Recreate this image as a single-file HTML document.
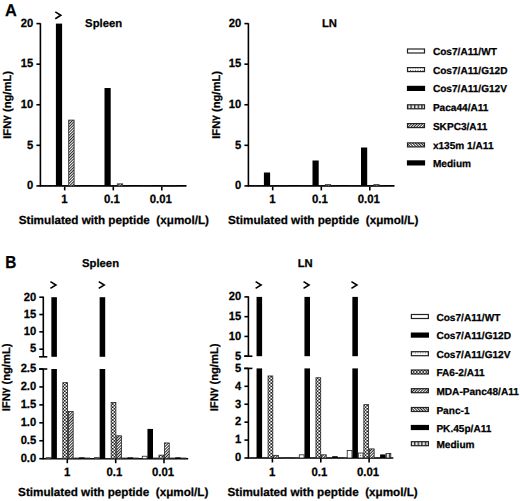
<!DOCTYPE html>
<html><head><meta charset="utf-8"><style>
html,body{margin:0;padding:0;background:#fff;width:520px;height:501px;overflow:hidden}
svg{display:block}
text{stroke:#000;stroke-width:0.25px;text-rendering:geometricPrecision}
</style></head><body>
<svg width="520" height="501" viewBox="0 0 520 501">
<defs>
<pattern id="pFwd" patternUnits="userSpaceOnUse" width="2.0" height="4" patternTransform="rotate(45)"><rect width="2.0" height="4" fill="#fff"/><rect width="1.0" height="4" fill="#222"/></pattern>
<pattern id="pBwd" patternUnits="userSpaceOnUse" width="2.0" height="4" patternTransform="rotate(-45)"><rect width="2.0" height="4" fill="#fff"/><rect width="1.0" height="4" fill="#222"/></pattern>
<pattern id="pVert" patternUnits="userSpaceOnUse" width="3.6" height="3"><rect width="3.6" height="3" fill="#e8e8e8"/><rect width="1.4" height="3" fill="#333"/></pattern>
<pattern id="pDots" patternUnits="userSpaceOnUse" width="2.5" height="2.5"><rect width="2.5" height="2.5" fill="#fff"/><rect width="0.9" height="0.9" fill="#555"/></pattern>
<pattern id="pCross" patternUnits="userSpaceOnUse" width="3.2" height="3.2"><rect width="3.2" height="3.2" fill="#fff"/><rect width="1.6" height="1.6" fill="#222"/><rect x="1.6" y="1.6" width="1.6" height="1.6" fill="#222"/></pattern>
</defs>
<rect width="520" height="501" fill="#fff"/>
<g font-family='"Liberation Sans", sans-serif' font-weight="bold" fill="#000">
<text x="0" y="0" font-size="17.0" transform="translate(5.0,15.7) scale(0.96,1)">A</text>
<text x="0" y="0" font-size="17.4" transform="translate(5.3,267.5) scale(0.885,1)">B</text>
<line x1="40.40" y1="23.20" x2="40.40" y2="186.50" stroke="#000" stroke-width="1.6"/>
<line x1="36.40" y1="185.90" x2="40.40" y2="185.90" stroke="#000" stroke-width="1.6"/>
<text transform="translate(33.30,189.20) scale(1,1.06)" font-size="11.2" text-anchor="end" >0</text>
<line x1="36.40" y1="145.32" x2="40.40" y2="145.32" stroke="#000" stroke-width="1.6"/>
<text transform="translate(33.30,148.62) scale(1,1.06)" font-size="11.2" text-anchor="end" >5</text>
<line x1="36.40" y1="104.75" x2="40.40" y2="104.75" stroke="#000" stroke-width="1.6"/>
<text transform="translate(33.30,108.05) scale(1,1.06)" font-size="11.2" text-anchor="end" >10</text>
<line x1="36.40" y1="64.17" x2="40.40" y2="64.17" stroke="#000" stroke-width="1.6"/>
<text transform="translate(33.30,67.47) scale(1,1.06)" font-size="11.2" text-anchor="end" >15</text>
<line x1="36.40" y1="23.60" x2="40.40" y2="23.60" stroke="#000" stroke-width="1.6"/>
<text transform="translate(33.30,26.90) scale(1,1.06)" font-size="11.2" text-anchor="end" >20</text>
<line x1="39.80" y1="185.90" x2="186.50" y2="185.90" stroke="#000" stroke-width="1.6"/>
<line x1="64.70" y1="185.90" x2="64.70" y2="190.40" stroke="#000" stroke-width="1.6"/>
<text transform="translate(64.50,203.30) scale(1,1.06)" font-size="11.4" text-anchor="middle" >1</text>
<line x1="113.30" y1="185.90" x2="113.30" y2="190.40" stroke="#000" stroke-width="1.6"/>
<text transform="translate(111.90,203.30) scale(1,1.06)" font-size="11.4" text-anchor="middle" >0.1</text>
<line x1="161.80" y1="185.90" x2="161.80" y2="190.40" stroke="#000" stroke-width="1.6"/>
<text transform="translate(160.80,203.30) scale(1,1.06)" font-size="11.4" text-anchor="middle" >0.01</text>
<rect x="43.90" y="186.00" width="5.40" height="0.20" fill="#fff" stroke="#222" stroke-width="0.8"/>
<rect x="50.10" y="186.00" width="5.40" height="0.20" fill="url(#pDots)" stroke="#222" stroke-width="0.8"/>
<rect x="55.90" y="23.60" width="6.20" height="162.30" fill="#000"/>
<polyline points="55.30,11.90 60.80,15.30 55.30,18.70" fill="none" stroke="#000" stroke-width="1.6" stroke-linejoin="miter"/>
<rect x="62.50" y="186.00" width="5.40" height="0.20" fill="url(#pVert)" stroke="#222" stroke-width="0.8"/>
<rect x="68.70" y="120.08" width="5.40" height="65.82" fill="url(#pFwd)" stroke="#222" stroke-width="0.8"/>
<rect x="74.90" y="186.00" width="5.40" height="0.20" fill="url(#pBwd)" stroke="#222" stroke-width="0.8"/>
<rect x="80.70" y="185.60" width="6.20" height="0.30" fill="#000"/>
<rect x="92.50" y="186.00" width="5.40" height="0.20" fill="#fff" stroke="#222" stroke-width="0.8"/>
<rect x="98.70" y="186.00" width="5.40" height="0.20" fill="url(#pDots)" stroke="#222" stroke-width="0.8"/>
<rect x="104.50" y="88.03" width="6.20" height="97.87" fill="#000"/>
<rect x="111.10" y="186.00" width="5.40" height="0.20" fill="url(#pVert)" stroke="#222" stroke-width="0.8"/>
<rect x="117.30" y="183.87" width="5.40" height="2.03" fill="url(#pFwd)" stroke="#222" stroke-width="0.8"/>
<rect x="123.50" y="186.00" width="5.40" height="0.20" fill="url(#pBwd)" stroke="#222" stroke-width="0.8"/>
<rect x="129.30" y="185.60" width="6.20" height="0.30" fill="#000"/>
<rect x="141.00" y="186.00" width="5.40" height="0.20" fill="#fff" stroke="#222" stroke-width="0.8"/>
<rect x="147.20" y="186.00" width="5.40" height="0.20" fill="url(#pDots)" stroke="#222" stroke-width="0.8"/>
<rect x="153.00" y="185.60" width="6.20" height="0.30" fill="#000"/>
<rect x="159.60" y="186.00" width="5.40" height="0.20" fill="url(#pVert)" stroke="#222" stroke-width="0.8"/>
<rect x="165.80" y="186.00" width="5.40" height="0.20" fill="url(#pFwd)" stroke="#222" stroke-width="0.8"/>
<rect x="172.00" y="186.00" width="5.40" height="0.20" fill="url(#pBwd)" stroke="#222" stroke-width="0.8"/>
<rect x="177.80" y="185.60" width="6.20" height="0.30" fill="#000"/>
<text x="85.10" y="26.80" font-size="11.3" text-anchor="start" >Spleen</text>
<text x="18.70" y="224.2" font-size="11.7" xml:space="preserve">Stimulated with peptide  (xμmol/L)</text>
<text x="0" y="0" font-size="11.2" text-anchor="middle" transform="translate(10.70,104.90) rotate(-90)">IFN<tspan dy="-2.0" font-size="10">γ</tspan><tspan dy="2.0"> (ng/mL)</tspan></text>
<line x1="248.40" y1="23.20" x2="248.40" y2="186.50" stroke="#000" stroke-width="1.6"/>
<line x1="244.40" y1="185.90" x2="248.40" y2="185.90" stroke="#000" stroke-width="1.6"/>
<text transform="translate(241.30,189.20) scale(1,1.06)" font-size="11.2" text-anchor="end" >0</text>
<line x1="244.40" y1="145.32" x2="248.40" y2="145.32" stroke="#000" stroke-width="1.6"/>
<text transform="translate(241.30,148.62) scale(1,1.06)" font-size="11.2" text-anchor="end" >5</text>
<line x1="244.40" y1="104.75" x2="248.40" y2="104.75" stroke="#000" stroke-width="1.6"/>
<text transform="translate(241.30,108.05) scale(1,1.06)" font-size="11.2" text-anchor="end" >10</text>
<line x1="244.40" y1="64.17" x2="248.40" y2="64.17" stroke="#000" stroke-width="1.6"/>
<text transform="translate(241.30,67.47) scale(1,1.06)" font-size="11.2" text-anchor="end" >15</text>
<line x1="244.40" y1="23.60" x2="248.40" y2="23.60" stroke="#000" stroke-width="1.6"/>
<text transform="translate(241.30,26.90) scale(1,1.06)" font-size="11.2" text-anchor="end" >20</text>
<line x1="247.80" y1="185.90" x2="394.50" y2="185.90" stroke="#000" stroke-width="1.6"/>
<line x1="272.70" y1="185.90" x2="272.70" y2="190.40" stroke="#000" stroke-width="1.6"/>
<text transform="translate(272.50,203.30) scale(1,1.06)" font-size="11.4" text-anchor="middle" >1</text>
<line x1="321.30" y1="185.90" x2="321.30" y2="190.40" stroke="#000" stroke-width="1.6"/>
<text transform="translate(319.90,203.30) scale(1,1.06)" font-size="11.4" text-anchor="middle" >0.1</text>
<line x1="369.80" y1="185.90" x2="369.80" y2="190.40" stroke="#000" stroke-width="1.6"/>
<text transform="translate(368.80,203.30) scale(1,1.06)" font-size="11.4" text-anchor="middle" >0.01</text>
<rect x="251.90" y="186.00" width="5.40" height="0.20" fill="#fff" stroke="#222" stroke-width="0.8"/>
<rect x="258.10" y="186.00" width="5.40" height="0.20" fill="url(#pDots)" stroke="#222" stroke-width="0.8"/>
<rect x="263.90" y="172.51" width="6.20" height="13.39" fill="#000"/>
<rect x="270.50" y="186.00" width="5.40" height="0.20" fill="url(#pVert)" stroke="#222" stroke-width="0.8"/>
<rect x="276.70" y="186.00" width="5.40" height="0.20" fill="url(#pFwd)" stroke="#222" stroke-width="0.8"/>
<rect x="282.90" y="186.00" width="5.40" height="0.20" fill="url(#pBwd)" stroke="#222" stroke-width="0.8"/>
<rect x="288.70" y="185.60" width="6.20" height="0.30" fill="#000"/>
<rect x="300.50" y="186.00" width="5.40" height="0.20" fill="#fff" stroke="#222" stroke-width="0.8"/>
<rect x="306.70" y="186.00" width="5.40" height="0.20" fill="url(#pDots)" stroke="#222" stroke-width="0.8"/>
<rect x="312.50" y="160.50" width="6.20" height="25.40" fill="#000"/>
<rect x="319.10" y="186.00" width="5.40" height="0.20" fill="url(#pVert)" stroke="#222" stroke-width="0.8"/>
<rect x="325.30" y="184.68" width="5.40" height="1.22" fill="url(#pFwd)" stroke="#222" stroke-width="0.8"/>
<rect x="331.50" y="186.00" width="5.40" height="0.20" fill="url(#pBwd)" stroke="#222" stroke-width="0.8"/>
<rect x="337.30" y="185.60" width="6.20" height="0.30" fill="#000"/>
<rect x="349.00" y="186.00" width="5.40" height="0.20" fill="#fff" stroke="#222" stroke-width="0.8"/>
<rect x="355.20" y="186.00" width="5.40" height="0.20" fill="url(#pDots)" stroke="#222" stroke-width="0.8"/>
<rect x="361.00" y="147.52" width="6.20" height="38.38" fill="#000"/>
<rect x="367.60" y="186.00" width="5.40" height="0.20" fill="url(#pVert)" stroke="#222" stroke-width="0.8"/>
<rect x="373.80" y="184.68" width="5.40" height="1.22" fill="url(#pFwd)" stroke="#222" stroke-width="0.8"/>
<rect x="380.00" y="186.00" width="5.40" height="0.20" fill="url(#pBwd)" stroke="#222" stroke-width="0.8"/>
<rect x="385.80" y="185.60" width="6.20" height="0.30" fill="#000"/>
<text x="321.90" y="26.80" font-size="11.3" text-anchor="start" >LN</text>
<text x="228.09" y="224.2" font-size="11.7" xml:space="preserve">Stimulated with peptide  (xμmol/L)</text>
<text x="0" y="0" font-size="11.2" text-anchor="middle" transform="translate(219.50,104.90) rotate(-90)">IFN<tspan dy="-2.0" font-size="10">γ</tspan><tspan dy="2.0"> (ng/mL)</tspan></text>
<rect x="407.50" y="49.00" width="17.00" height="4.00" fill="#fff" stroke="#222" stroke-width="1.2"/>
<text x="432.90" y="55.00" font-size="10.1" text-anchor="start" >Cos7/A11/WT</text>
<rect x="407.50" y="67.60" width="17.00" height="4.00" fill="url(#pDots)" stroke="#222" stroke-width="1.2"/>
<text x="432.90" y="73.60" font-size="10.1" text-anchor="start" >Cos7/A11/G12D</text>
<rect x="406.90" y="85.80" width="18.20" height="5.20" fill="#000"/>
<text x="432.90" y="92.40" font-size="10.1" text-anchor="start" >Cos7/A11/G12V</text>
<rect x="407.50" y="104.80" width="17.00" height="4.00" fill="url(#pVert)" stroke="#222" stroke-width="1.2"/>
<text x="432.90" y="110.80" font-size="10.1" text-anchor="start" >Paca44/A11</text>
<rect x="407.50" y="123.60" width="17.00" height="4.00" fill="url(#pFwd)" stroke="#222" stroke-width="1.2"/>
<text x="432.90" y="129.60" font-size="10.1" text-anchor="start" >SKPC3/A11</text>
<rect x="407.50" y="142.90" width="17.00" height="4.00" fill="url(#pBwd)" stroke="#222" stroke-width="1.2"/>
<text x="432.90" y="148.90" font-size="10.1" text-anchor="start" >x135m 1/A11</text>
<rect x="406.90" y="160.30" width="18.20" height="5.20" fill="#000"/>
<text x="432.90" y="166.90" font-size="10.1" text-anchor="start" >Medium</text>
<line x1="43.30" y1="296.60" x2="43.30" y2="356.80" stroke="#000" stroke-width="1.6"/>
<line x1="39.10" y1="356.80" x2="47.30" y2="356.80" stroke="#000" stroke-width="1.6"/>
<line x1="39.30" y1="349.18" x2="43.30" y2="349.18" stroke="#000" stroke-width="1.6"/>
<text transform="translate(36.20,352.48) scale(1,1.06)" font-size="11.2" text-anchor="end" >5</text>
<line x1="39.30" y1="331.85" x2="43.30" y2="331.85" stroke="#000" stroke-width="1.6"/>
<text transform="translate(36.20,335.15) scale(1,1.06)" font-size="11.2" text-anchor="end" >10</text>
<line x1="39.30" y1="314.53" x2="43.30" y2="314.53" stroke="#000" stroke-width="1.6"/>
<text transform="translate(36.20,317.83) scale(1,1.06)" font-size="11.2" text-anchor="end" >15</text>
<line x1="39.30" y1="297.20" x2="43.30" y2="297.20" stroke="#000" stroke-width="1.6"/>
<text transform="translate(36.20,300.50) scale(1,1.06)" font-size="11.2" text-anchor="end" >20</text>
<line x1="43.30" y1="369.00" x2="43.30" y2="459.30" stroke="#000" stroke-width="1.6"/>
<line x1="39.10" y1="369.00" x2="47.30" y2="369.00" stroke="#000" stroke-width="1.6"/>
<line x1="39.30" y1="458.70" x2="43.30" y2="458.70" stroke="#000" stroke-width="1.6"/>
<text transform="translate(36.20,462.00) scale(1,1.06)" font-size="11.2" text-anchor="end" >0.0</text>
<line x1="39.30" y1="440.76" x2="43.30" y2="440.76" stroke="#000" stroke-width="1.6"/>
<text transform="translate(36.20,444.06) scale(1,1.06)" font-size="11.2" text-anchor="end" >0.5</text>
<line x1="39.30" y1="422.82" x2="43.30" y2="422.82" stroke="#000" stroke-width="1.6"/>
<text transform="translate(36.20,426.12) scale(1,1.06)" font-size="11.2" text-anchor="end" >1.0</text>
<line x1="39.30" y1="404.88" x2="43.30" y2="404.88" stroke="#000" stroke-width="1.6"/>
<text transform="translate(36.20,408.18) scale(1,1.06)" font-size="11.2" text-anchor="end" >1.5</text>
<line x1="39.30" y1="386.94" x2="43.30" y2="386.94" stroke="#000" stroke-width="1.6"/>
<text transform="translate(36.20,390.24) scale(1,1.06)" font-size="11.2" text-anchor="end" >2.0</text>
<line x1="39.30" y1="369.00" x2="43.30" y2="369.00" stroke="#000" stroke-width="1.6"/>
<text transform="translate(36.20,372.30) scale(1,1.06)" font-size="11.2" text-anchor="end" >2.5</text>
<line x1="42.70" y1="458.70" x2="188.20" y2="458.70" stroke="#000" stroke-width="1.6"/>
<line x1="67.30" y1="458.70" x2="67.30" y2="463.20" stroke="#000" stroke-width="1.6"/>
<text transform="translate(67.10,475.70) scale(1,1.06)" font-size="11.4" text-anchor="middle" >1</text>
<line x1="115.70" y1="458.70" x2="115.70" y2="463.20" stroke="#000" stroke-width="1.6"/>
<text transform="translate(114.30,475.70) scale(1,1.06)" font-size="11.4" text-anchor="middle" >0.1</text>
<line x1="164.00" y1="458.70" x2="164.00" y2="463.20" stroke="#000" stroke-width="1.6"/>
<text transform="translate(163.00,475.70) scale(1,1.06)" font-size="11.4" text-anchor="middle" >0.01</text>
<rect x="46.20" y="457.66" width="4.75" height="1.04" fill="#fff" stroke="#222" stroke-width="0.8"/>
<rect x="51.35" y="369.00" width="5.55" height="89.70" fill="#000"/>
<rect x="51.35" y="297.20" width="5.55" height="59.60" fill="#000"/>
<polyline points="50.42,281.60 55.92,285.00 50.42,288.40" fill="none" stroke="#000" stroke-width="1.6" stroke-linejoin="miter"/>
<rect x="57.30" y="458.38" width="4.75" height="0.32" fill="url(#pDots)" stroke="#222" stroke-width="0.8"/>
<rect x="62.85" y="382.68" width="4.75" height="76.02" fill="url(#pCross)" stroke="#222" stroke-width="0.8"/>
<rect x="68.40" y="411.38" width="4.75" height="47.32" fill="url(#pFwd)" stroke="#222" stroke-width="0.8"/>
<rect x="73.95" y="458.02" width="4.75" height="0.68" fill="url(#pBwd)" stroke="#222" stroke-width="0.8"/>
<rect x="79.10" y="457.26" width="5.55" height="1.44" fill="#000"/>
<rect x="85.05" y="458.02" width="4.75" height="0.68" fill="url(#pVert)" stroke="#222" stroke-width="0.8"/>
<rect x="94.50" y="457.66" width="4.75" height="1.04" fill="#fff" stroke="#222" stroke-width="0.8"/>
<rect x="99.65" y="369.00" width="5.55" height="89.70" fill="#000"/>
<rect x="99.65" y="297.20" width="5.55" height="59.60" fill="#000"/>
<polyline points="98.73,281.60 104.23,285.00 98.73,288.40" fill="none" stroke="#000" stroke-width="1.6" stroke-linejoin="miter"/>
<rect x="105.60" y="458.38" width="4.75" height="0.32" fill="url(#pDots)" stroke="#222" stroke-width="0.8"/>
<rect x="111.15" y="402.41" width="4.75" height="56.29" fill="url(#pCross)" stroke="#222" stroke-width="0.8"/>
<rect x="116.70" y="435.78" width="4.75" height="22.92" fill="url(#pFwd)" stroke="#222" stroke-width="0.8"/>
<rect x="122.25" y="458.02" width="4.75" height="0.68" fill="url(#pBwd)" stroke="#222" stroke-width="0.8"/>
<rect x="127.40" y="457.26" width="5.55" height="1.44" fill="#000"/>
<rect x="133.35" y="458.02" width="4.75" height="0.68" fill="url(#pVert)" stroke="#222" stroke-width="0.8"/>
<rect x="142.30" y="456.23" width="4.75" height="2.47" fill="#fff" stroke="#222" stroke-width="0.8"/>
<rect x="147.45" y="428.92" width="5.55" height="29.78" fill="#000"/>
<rect x="153.40" y="458.02" width="4.75" height="0.68" fill="url(#pDots)" stroke="#222" stroke-width="0.8"/>
<rect x="158.95" y="455.15" width="4.75" height="3.55" fill="url(#pCross)" stroke="#222" stroke-width="0.8"/>
<rect x="164.50" y="442.95" width="4.75" height="15.75" fill="url(#pFwd)" stroke="#222" stroke-width="0.8"/>
<rect x="170.05" y="458.02" width="4.75" height="0.68" fill="url(#pBwd)" stroke="#222" stroke-width="0.8"/>
<rect x="175.20" y="457.26" width="5.55" height="1.44" fill="#000"/>
<rect x="181.15" y="458.02" width="4.75" height="0.68" fill="url(#pVert)" stroke="#222" stroke-width="0.8"/>
<text x="82.00" y="267.00" font-size="11.3" text-anchor="start" >Spleen</text>
<text x="18.10" y="496.2" font-size="11.7" xml:space="preserve">Stimulated with peptide  (xμmol/L)</text>
<line x1="248.40" y1="296.30" x2="248.40" y2="356.20" stroke="#000" stroke-width="1.6"/>
<line x1="244.20" y1="356.20" x2="252.40" y2="356.20" stroke="#000" stroke-width="1.6"/>
<line x1="244.40" y1="356.20" x2="248.40" y2="356.20" stroke="#000" stroke-width="1.6"/>
<text transform="translate(241.30,359.50) scale(1,1.06)" font-size="11.2" text-anchor="end" >5</text>
<line x1="244.40" y1="336.43" x2="248.40" y2="336.43" stroke="#000" stroke-width="1.6"/>
<text transform="translate(241.30,339.73) scale(1,1.06)" font-size="11.2" text-anchor="end" >10</text>
<line x1="244.40" y1="316.67" x2="248.40" y2="316.67" stroke="#000" stroke-width="1.6"/>
<text transform="translate(241.30,319.97) scale(1,1.06)" font-size="11.2" text-anchor="end" >15</text>
<line x1="244.40" y1="296.90" x2="248.40" y2="296.90" stroke="#000" stroke-width="1.6"/>
<text transform="translate(241.30,300.20) scale(1,1.06)" font-size="11.2" text-anchor="end" >20</text>
<line x1="248.40" y1="368.40" x2="248.40" y2="458.60" stroke="#000" stroke-width="1.6"/>
<line x1="244.20" y1="368.40" x2="252.40" y2="368.40" stroke="#000" stroke-width="1.6"/>
<line x1="244.40" y1="458.00" x2="248.40" y2="458.00" stroke="#000" stroke-width="1.6"/>
<text transform="translate(241.30,461.30) scale(1,1.06)" font-size="11.2" text-anchor="end" >0</text>
<line x1="244.40" y1="440.08" x2="248.40" y2="440.08" stroke="#000" stroke-width="1.6"/>
<text transform="translate(241.30,443.38) scale(1,1.06)" font-size="11.2" text-anchor="end" >1</text>
<line x1="244.40" y1="422.16" x2="248.40" y2="422.16" stroke="#000" stroke-width="1.6"/>
<text transform="translate(241.30,425.46) scale(1,1.06)" font-size="11.2" text-anchor="end" >2</text>
<line x1="244.40" y1="404.24" x2="248.40" y2="404.24" stroke="#000" stroke-width="1.6"/>
<text transform="translate(241.30,407.54) scale(1,1.06)" font-size="11.2" text-anchor="end" >3</text>
<line x1="244.40" y1="386.32" x2="248.40" y2="386.32" stroke="#000" stroke-width="1.6"/>
<text transform="translate(241.30,389.62) scale(1,1.06)" font-size="11.2" text-anchor="end" >4</text>
<line x1="244.40" y1="368.40" x2="248.40" y2="368.40" stroke="#000" stroke-width="1.6"/>
<text transform="translate(241.30,371.70) scale(1,1.06)" font-size="11.2" text-anchor="end" >5</text>
<line x1="247.80" y1="458.00" x2="393.30" y2="458.00" stroke="#000" stroke-width="1.6"/>
<line x1="272.40" y1="458.00" x2="272.40" y2="462.50" stroke="#000" stroke-width="1.6"/>
<text transform="translate(272.20,475.70) scale(1,1.06)" font-size="11.4" text-anchor="middle" >1</text>
<line x1="320.80" y1="458.00" x2="320.80" y2="462.50" stroke="#000" stroke-width="1.6"/>
<text transform="translate(319.40,475.70) scale(1,1.06)" font-size="11.4" text-anchor="middle" >0.1</text>
<line x1="369.10" y1="458.00" x2="369.10" y2="462.50" stroke="#000" stroke-width="1.6"/>
<text transform="translate(368.10,475.70) scale(1,1.06)" font-size="11.4" text-anchor="middle" >0.01</text>
<rect x="251.40" y="458.04" width="4.75" height="0.20" fill="#fff" stroke="#222" stroke-width="0.8"/>
<rect x="256.55" y="368.40" width="5.55" height="89.60" fill="#000"/>
<rect x="256.55" y="296.90" width="5.55" height="59.30" fill="#000"/>
<polyline points="255.62,281.60 261.12,285.00 255.62,288.40" fill="none" stroke="#000" stroke-width="1.6" stroke-linejoin="miter"/>
<rect x="262.50" y="458.04" width="4.75" height="0.20" fill="url(#pDots)" stroke="#222" stroke-width="0.8"/>
<rect x="268.05" y="375.97" width="4.75" height="82.03" fill="url(#pCross)" stroke="#222" stroke-width="0.8"/>
<rect x="273.60" y="455.35" width="4.75" height="2.65" fill="url(#pFwd)" stroke="#222" stroke-width="0.8"/>
<rect x="279.15" y="458.10" width="4.75" height="0.20" fill="url(#pBwd)" stroke="#222" stroke-width="0.8"/>
<rect x="284.30" y="457.64" width="5.55" height="0.36" fill="#000"/>
<rect x="290.25" y="458.04" width="4.75" height="0.20" fill="url(#pVert)" stroke="#222" stroke-width="0.8"/>
<rect x="299.30" y="454.82" width="4.75" height="3.18" fill="#fff" stroke="#222" stroke-width="0.8"/>
<rect x="304.45" y="368.40" width="5.55" height="89.60" fill="#000"/>
<rect x="304.45" y="296.90" width="5.55" height="59.30" fill="#000"/>
<polyline points="303.53,281.60 309.03,285.00 303.53,288.40" fill="none" stroke="#000" stroke-width="1.6" stroke-linejoin="miter"/>
<rect x="310.40" y="458.04" width="4.75" height="0.20" fill="url(#pDots)" stroke="#222" stroke-width="0.8"/>
<rect x="315.95" y="377.76" width="4.75" height="80.24" fill="url(#pCross)" stroke="#222" stroke-width="0.8"/>
<rect x="321.50" y="454.82" width="4.75" height="3.18" fill="url(#pFwd)" stroke="#222" stroke-width="0.8"/>
<rect x="327.05" y="458.04" width="4.75" height="0.20" fill="url(#pBwd)" stroke="#222" stroke-width="0.8"/>
<rect x="332.20" y="456.21" width="5.55" height="1.79" fill="#000"/>
<rect x="338.15" y="458.04" width="4.75" height="0.20" fill="url(#pVert)" stroke="#222" stroke-width="0.8"/>
<rect x="347.20" y="450.52" width="4.75" height="7.48" fill="#fff" stroke="#222" stroke-width="0.8"/>
<rect x="352.35" y="368.40" width="5.55" height="89.60" fill="#000"/>
<rect x="352.35" y="296.90" width="5.55" height="59.30" fill="#000"/>
<polyline points="351.43,281.60 356.93,285.00 351.43,288.40" fill="none" stroke="#000" stroke-width="1.6" stroke-linejoin="miter"/>
<rect x="358.30" y="453.02" width="4.75" height="4.98" fill="url(#pDots)" stroke="#222" stroke-width="0.8"/>
<rect x="363.85" y="404.64" width="4.75" height="53.36" fill="url(#pCross)" stroke="#222" stroke-width="0.8"/>
<rect x="369.40" y="448.90" width="4.75" height="9.10" fill="url(#pFwd)" stroke="#222" stroke-width="0.8"/>
<rect x="374.95" y="458.04" width="4.75" height="0.20" fill="url(#pBwd)" stroke="#222" stroke-width="0.8"/>
<rect x="380.10" y="454.42" width="5.55" height="3.58" fill="#000"/>
<rect x="386.05" y="453.56" width="4.75" height="4.44" fill="url(#pVert)" stroke="#222" stroke-width="0.8"/>
<text x="297.70" y="267.00" font-size="11.3" text-anchor="start" >LN</text>
<text x="227.50" y="496.2" font-size="11.7" xml:space="preserve">Stimulated with peptide  (xμmol/L)</text>
<text x="0" y="0" font-size="11.2" text-anchor="middle" transform="translate(9.50,377.40) rotate(-90)">IFN<tspan dy="-2.0" font-size="10">γ</tspan><tspan dy="2.0"> (ng/mL)</tspan></text>
<text x="0" y="0" font-size="11.2" text-anchor="middle" transform="translate(217.90,377.40) rotate(-90)">IFN<tspan dy="-2.0" font-size="10">γ</tspan><tspan dy="2.0"> (ng/mL)</tspan></text>
<rect x="411.40" y="314.50" width="17.00" height="4.00" fill="#fff" stroke="#222" stroke-width="1.2"/>
<text x="436.40" y="320.50" font-size="10.1" text-anchor="start" >Cos7/A11/WT</text>
<rect x="410.80" y="332.50" width="18.20" height="5.20" fill="#000"/>
<text x="436.40" y="339.10" font-size="10.1" text-anchor="start" >Cos7/A11/G12D</text>
<rect x="411.40" y="351.70" width="17.00" height="4.00" fill="url(#pDots)" stroke="#222" stroke-width="1.2"/>
<text x="436.40" y="357.70" font-size="10.1" text-anchor="start" >Cos7/A11/G12V</text>
<rect x="411.40" y="370.00" width="17.00" height="4.00" fill="url(#pCross)" stroke="#222" stroke-width="1.2"/>
<text x="436.40" y="376.00" font-size="10.1" text-anchor="start" >FA6-2/A11</text>
<rect x="411.40" y="388.70" width="17.00" height="4.00" fill="url(#pFwd)" stroke="#222" stroke-width="1.2"/>
<text x="436.40" y="394.70" font-size="10.1" text-anchor="start" >MDA-Panc48/A11</text>
<rect x="411.40" y="407.50" width="17.00" height="4.00" fill="url(#pBwd)" stroke="#222" stroke-width="1.2"/>
<text x="436.40" y="413.50" font-size="10.1" text-anchor="start" >Panc-1</text>
<rect x="410.80" y="424.90" width="18.20" height="5.20" fill="#000"/>
<text x="436.40" y="431.50" font-size="10.1" text-anchor="start" >PK.45p/A11</text>
<rect x="411.40" y="441.70" width="17.00" height="4.00" fill="url(#pVert)" stroke="#222" stroke-width="1.2"/>
<text x="436.40" y="447.70" font-size="10.1" text-anchor="start" >Medium</text>
</g></svg>
</body></html>
